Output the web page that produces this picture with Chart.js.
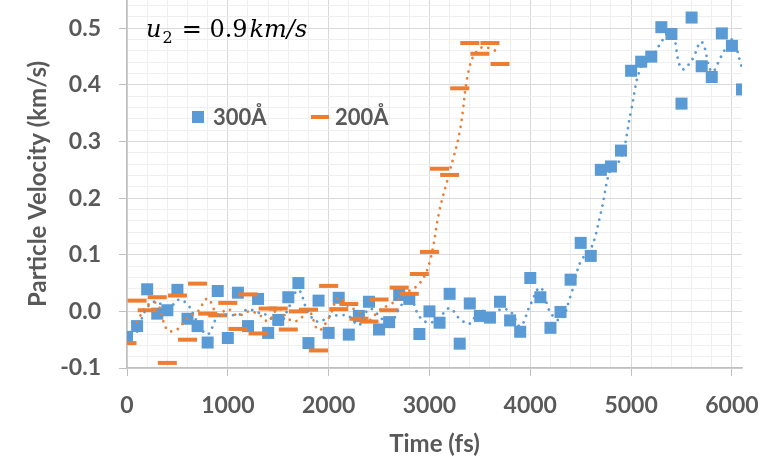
<!DOCTYPE html>
<html>
<head>
<meta charset="utf-8">
<script src="https://cdn.jsdelivr.net/npm/chart.js@4.4.1/dist/chart.umd.min.js"></script>
<style>
    html, body { margin: 0; padding: 0; background: #fff; }
    #wrap { width: 782px; height: 462px; }
</style>
</head>
<body>
<div id="wrap"><canvas id="velocityChart" width="782" height="462"></canvas></div>
<script>
// Time (fs) of each sample
const time300 = [0, 100, 200, 300, 400, 500, 600, 700, 800, 900,
    1000, 1100, 1200, 1300, 1400, 1500, 1600, 1700, 1800, 1900,
    2000, 2100, 2200, 2300, 2400, 2500, 2600, 2700, 2800, 2900,
    3000, 3100, 3200, 3300, 3400, 3500, 3600, 3700, 3800, 3900,
    4000, 4100, 4200, 4300, 4400, 4500, 4600, 4700, 4800, 4900,
    5000, 5100, 5200, 5300, 5400, 5500, 5600, 5700, 5800, 5900,
    6000, 6100];
// Particle velocity (km/s), 300 Å sample
const velocity300 = [-0.045, -0.026, 0.039, -0.004, 0.002, 0.038, -0.013, -0.026, -0.055, 0.036,
    -0.047, 0.033, -0.026, 0.022, -0.038, -0.015, 0.025, 0.050, -0.056, 0.019,
    -0.038, 0.024, -0.041, -0.008, 0.017, -0.032, -0.019, 0.029, 0.022, -0.040,
    0.000, -0.020, 0.031, -0.057, 0.014, -0.008, -0.011, 0.017, -0.016, -0.036,
    0.059, 0.025, -0.029, -0.001, 0.056, 0.121, 0.098, 0.250, 0.256, 0.284,
    0.425, 0.441, 0.450, 0.502, 0.490, 0.367, 0.519, 0.433, 0.414, 0.491,
    0.469, 0.392];

const time200 = [0, 100, 200, 300, 400, 500, 600, 700, 800, 900,
    1000, 1100, 1200, 1300, 1400, 1500, 1600, 1700, 1800, 1900,
    2000, 2100, 2200, 2300, 2400, 2500, 2600, 2700, 2800, 2900,
    3000, 3100, 3200, 3300, 3400, 3500, 3600, 3700];
// Particle velocity (km/s), 200 Å sample
const velocity200 = [-0.056, 0.019, 0.002, 0.025, -0.091, 0.028, -0.050, 0.049, -0.004, -0.007,
    0.015, -0.031, 0.030, -0.039, 0.005, 0.005, -0.032, 0.000, 0.003, -0.069,
    0.045, 0.004, 0.013, -0.013, -0.018, 0.021, 0.002, 0.042, 0.031, 0.066,
    0.105, 0.252, 0.241, 0.394, 0.474, 0.455, 0.474, 0.437];

const seriesNames = ['300Å', '200Å'];
const xTicksMajor = [0, 1000, 2000, 3000, 4000, 5000, 6000];
const yTicksMajor = [-0.1, 0.0, 0.1, 0.2, 0.3, 0.4, 0.5];
const xMinorStep = 200;
const yMinorStep = 0.02;

const blue = '#5b9bd5';
const orange = '#ed7d31';
const textGrey = '#595959';

function toPoints(xs, ys) {
    return xs.map((x, i) => ({ x: x, y: ys[i] }));
}

// 2-period moving average, plotted at the later point (like the Excel trendline)
function movingAverage(xs, ys) {
    const out = [];
    for (let i = 1; i < ys.length; i++) {
        out.push({ x: xs[i], y: (ys[i] + ys[i - 1]) / 2 });
    }
    return out;
}

function isMajor(value, list) {
    return list.some(v => Math.abs(v - value) < 1e-6);
}

// grid ticks every minor step between min and max
function gridTicks(min, max, step) {
    const ticks = [];
    const n = Math.floor((max - min) / step + 1e-6);
    for (let i = 0; i <= n; i++) {
        ticks.push({ value: Math.round((min + i * step) * 1000) / 1000 });
    }
    return ticks;
}

const legendAndLabel = {
    id: 'legendAndLabel',
    afterDraw(chart) {
        const ctx = chart.ctx;
        ctx.save();

        // y tick labels (drawn here so the axis adds no top padding)
        const yScale = chart.scales.y;
        ctx.fillStyle = textGrey;
        ctx.font = 'bold 23px Lato';
        ctx.textAlign = 'right';
        ctx.textBaseline = 'middle';
        yTicksMajor.forEach(v => {
            ctx.fillText(v.toFixed(1), chart.chartArea.left - 26, yScale.getPixelForValue(v));
        });

        // legend inside the plot
        ctx.textAlign = 'left';
        ctx.textBaseline = 'alphabetic';
        ctx.fillStyle = blue;
        ctx.fillRect(192, 111, 12, 12);
        ctx.fillStyle = orange;
        ctx.fillRect(311, 115, 18, 4);
        ctx.fillStyle = textGrey;
        ctx.font = 'bold 22px Lato';
        ctx.fillText(seriesNames[0], 213, 125);
        ctx.fillText(seriesNames[1], 335, 125);

        // u2 = 0.9 km/s
        ctx.fillStyle = '#000';
        let x = 146;
        const base = 37;
        ctx.font = 'italic 24px "DejaVu Serif"';
        ctx.fillText('u', x, base);
        x += ctx.measureText('u').width + 1;
        ctx.font = '16px "DejaVu Serif"';
        ctx.fillText('2', x, base + 6);
        x += ctx.measureText('2').width + 9;
        ctx.font = '24px "DejaVu Serif"';
        ctx.fillText('= 0.9', x, base);
        x += ctx.measureText('= 0.9').width + 2;
        ctx.font = 'italic 24px "DejaVu Serif"';
        ctx.fillText('km/s', x, base);
        ctx.restore();
    }
};

const ctx = document.getElementById('velocityChart').getContext('2d');

new Chart(ctx, {
    type: 'scatter',
    data: {
        datasets: [
            {
                label: seriesNames[0],
                data: toPoints(time300, velocity300),
                pointStyle: 'rect',
                pointRadius: 8.5,
                pointBackgroundColor: blue,
                pointBorderColor: blue,
                pointBorderWidth: 0,
                showLine: false,
                order: 4
            },
            {
                label: seriesNames[1],
                data: toPoints(time200, velocity200),
                pointStyle: 'line',
                pointRadius: 9.5,
                pointBorderColor: orange,
                pointBorderWidth: 4,
                showLine: false,
                order: 3
            },
            {
                label: 'trend300',
                data: movingAverage(time300, velocity300),
                showLine: true,
                pointRadius: 0,
                borderColor: blue,
                borderWidth: 2.75,
                borderDash: [0.01, 7],
                borderCapStyle: 'round',
                tension: 0.4,
                order: 2
            },
            {
                label: 'trend200',
                data: movingAverage(time200, velocity200),
                showLine: true,
                pointRadius: 0,
                borderColor: orange,
                borderWidth: 2.75,
                borderDash: [0.01, 7],
                borderCapStyle: 'round',
                tension: 0.4,
                order: 1
            }
        ]
    },
    options: {
        responsive: false,
        animation: false,
        layout: {
            autoPadding: false,
            padding: { top: 0, right: 40, bottom: 0, left: 0 }
        },
        plugins: {
            legend: { display: false },
            tooltip: { enabled: false }
        },
        scales: {
            x: {
                type: 'linear',
                min: 0,
                max: 6100,
                afterBuildTicks: function(scale) {
                    scale.ticks = gridTicks(0, 6100, xMinorStep);
                },
                afterFit: function(scale) {
                    scale.height = 94;
                    scale.paddingLeft = 0;
                    scale.paddingRight = 0;
                },
                ticks: {
                    autoSkip: false,
                    maxRotation: 0,
                    padding: 16,
                    color: textGrey,
                    font: { family: 'Lato', size: 23, weight: 'bold' },
                    callback: function(value) {
                        return isMajor(value, xTicksMajor) ? String(value) : '';
                    }
                },
                grid: {
                    tickLength: 8,
                    color: function(c) {
                        if (!c.tick) return 'rgba(0,0,0,0)';
                        return isMajor(c.tick.value, xTicksMajor) ? '#d9d9d9' : '#efefef';
                    },
                    tickColor: function(c) {
                        return c.tick && isMajor(c.tick.value, xTicksMajor) ? '#bfbfbf' : 'rgba(0,0,0,0)';
                    }
                },
                border: { color: '#bfbfbf', width: 1.5 },
                title: {
                    display: true,
                    text: 'Time (fs)',
                    color: textGrey,
                    font: { family: 'Lato', size: 24, weight: 'bold' },
                    padding: { top: 0, bottom: 3 }
                }
            },
            y: {
                min: -0.1,
                max: 0.55,
                afterBuildTicks: function(scale) {
                    scale.ticks = gridTicks(-0.1, 0.55, yMinorStep);
                },
                afterFit: function(scale) {
                    scale.width = 127;
                },
                ticks: {
                    display: false
                },
                grid: {
                    tickLength: 8,
                    color: function(c) {
                        if (!c.tick) return 'rgba(0,0,0,0)';
                        return isMajor(c.tick.value, yTicksMajor) ? '#d9d9d9' : '#efefef';
                    },
                    tickColor: function(c) {
                        return c.tick && isMajor(c.tick.value, yTicksMajor) ? '#bfbfbf' : 'rgba(0,0,0,0)';
                    }
                },
                border: { color: '#bfbfbf', width: 1.5 },
                title: {
                    display: true,
                    text: 'Particle Velocity (km/s)',
                    color: textGrey,
                    font: { family: 'Lato', size: 24, weight: 'bold' },
                    padding: { top: 24, bottom: 0 }
                }
            }
        }
    },
    plugins: [legendAndLabel]
});
</script>
</body>
</html>
